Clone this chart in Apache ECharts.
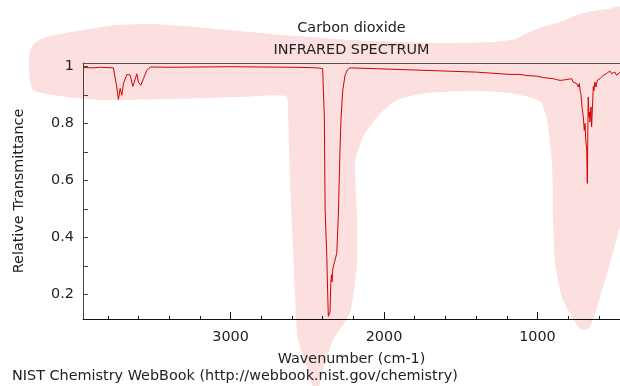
<!DOCTYPE html>
<html>
<head>
<meta charset="utf-8">
<script src="https://cdn.jsdelivr.net/npm/echarts@6/dist/echarts.min.js"></script>
<style>
  html, body { margin: 0; padding: 0; background: #fff; }
  #chart { width: 620px; height: 386px; }
</style>
</head>
<body>
<div id="chart"></div>
<script>
// spectrum (wavenumber cm-1 / relative transmittance)
const wavenumber = [
  3962, 3900, 3850, 3800, 3764, 3742, 3731, 3720, 3709, 3698, 3676, 3655, 3637, 3622, 3611, 3601, 3585, 3568, 3546, 3524,
  3400, 3200, 3000, 2800, 2600, 2480, 2420, 2400, 2395, 2389, 2384, 2373, 2369, 2363, 2356,
  2352, 2347, 2342, 2339, 2334, 2319, 2308, 2298, 2287, 2280, 2269, 2254, 2239, 2221,
  2048, 1831, 1614, 1396, 1179, 1114, 1070, 1005, 962, 897, 875, 853, 810, 777, 767, 744, 734, 727, 722, 717, 712,
  701, 695, 690, 686, 679, 675, 672, 669, 664, 660, 658, 651, 647, 640, 636, 632, 626, 619, 610, 593, 571, 549, 528, 517, 495, 484, 462
]
const transmittance = [
  0.996, 0.995, 0.997, 0.996, 0.995, 0.928, 0.884, 0.923, 0.899, 0.941, 0.972, 0.970, 0.930, 0.955, 0.974, 0.945, 0.934, 0.957, 0.986, 0.998,
  0.997, 0.998, 0.999, 0.998, 0.997, 0.996, 0.994, 0.992, 0.990, 0.823, 0.497, 0.334, 0.241, 0.124, 0.117,
  0.14, 0.24, 0.27, 0.245, 0.29, 0.322, 0.346, 0.474, 0.707, 0.823, 0.916, 0.969, 0.988, 0.995,
  0.992, 0.988, 0.984, 0.980, 0.972, 0.972, 0.968, 0.966, 0.961, 0.957, 0.954, 0.951, 0.954, 0.957, 0.945, 0.940, 0.928, 0.940, 0.915, 0.905, 0.870,
  0.823, 0.776, 0.800, 0.747, 0.707, 0.590, 0.753, 0.893, 0.823, 0.840, 0.805, 0.858, 0.788, 0.881, 0.930, 0.915, 0.945, 0.928, 0.951, 0.957, 0.969, 0.975, 0.984, 0.975, 0.980, 0.969, 0.980
]
const xLabelTicks = [1000, 2000, 3000]
const xMinorTicks = [600, 800, 1200, 1400, 1600, 1800, 2200, 2400, 2600, 2800, 3200, 3400, 3600, 3800]
const yLabelTicks = [0.2, 0.4, 0.6, 0.8, 1]
const yTicks = [0.2, 0.3, 0.4, 0.5, 0.6, 0.7, 0.8, 0.9, 1]

const FONT = 'DejaVu Sans'
const FS = 14.4

// pink highlight behind the plot (decoration, pixel outline)
const blob = [
  [36, 42], [50, 36], [83, 30], [117, 25], [150, 24], [183, 26], [217, 29], [250, 32], [283, 35], [310, 37],
  [350, 40], [400, 42], [443, 43], [495, 42], [515, 39], [527, 33], [543, 27], [560, 22], [577, 15], [593, 11],
  [608, 9], [622, 7], [622, 215], [610, 263], [600, 297], [593, 320], [588, 329], [580, 329], [572, 317],
  [562, 297], [555, 263], [553, 213], [552, 163], [547, 120], [542, 104], [536, 99], [510, 93], [477, 91],
  [427, 93], [397, 100], [377, 117], [363, 137], [355, 163], [357, 213], [357, 263], [350, 313], [333, 340],
  [323, 370], [318, 390], [314, 390], [307, 367], [298, 340], [295, 297], [293, 247], [290, 180], [288, 113],
  [286, 96], [240, 97], [167, 99], [100, 100], [67, 97], [33, 90], [29, 70], [30, 50]
]

const chart = echarts.init(document.getElementById('chart'))

const data = wavenumber.map((w, i) => [w, transmittance[i]])

function textEl(text, x, y, align) {
  return {
    type: 'text', z: 10, silent: true,
    style: { text: text, x: x, y: y, align: align, verticalAlign: 'middle', font: FS + 'px "DejaVu Sans"', fill: '#222' }
  }
}

const option = {
  animation: false,
  backgroundColor: '#fff',
  textStyle: { fontFamily: FONT },
  grid: { left: 83, right: 0, top: 63, bottom: 67, containLabel: false },
  graphic: [
    {
      type: 'polygon', z: -10, silent: true,
      shape: { points: blob, smooth: 0.2 },
      style: { fill: '#fcdfdf' }
    },
    textEl('Carbon dioxide', 351.5, 28, 'center'),
    textEl('INFRARED SPECTRUM', 351.5, 50, 'center'),
    textEl('NIST Chemistry WebBook (http://webbook.nist.gov/chemistry)', 12, 376, 'left')
  ],
  xAxis: [
    {
      type: 'value', inverse: true, min: 462, max: 3962, position: 'bottom',
      name: 'Wavenumber (cm-1)', nameLocation: 'middle', nameGap: 33,
      nameTextStyle: { fontSize: FS, color: '#222', fontFamily: FONT },
      axisLine: { lineStyle: { color: '#111', width: 1 } },
      axisTick: { inside: true, length: 7, customValues: xLabelTicks, lineStyle: { color: '#111' } },
      axisLabel: { customValues: xLabelTicks, fontSize: FS, color: '#222', margin: 11, fontFamily: FONT, formatter: v => String(v) },
      splitLine: { show: false }
    },
    {
      type: 'value', inverse: true, min: 462, max: 3962, position: 'bottom',
      axisLine: { show: false },
      axisTick: { inside: true, length: 3, customValues: xMinorTicks, lineStyle: { color: '#111' } },
      axisLabel: { show: false },
      splitLine: { show: false }
    },
    {
      type: 'value', inverse: true, min: 462, max: 3962, position: 'top',
      axisLine: { lineStyle: { color: '#555', width: 1 } },
      axisTick: { show: false },
      axisLabel: { show: false },
      splitLine: { show: false }
    }
  ],
  yAxis: {
    type: 'value', min: 0.115, max: 1.012,
    name: 'Relative Transmittance', nameLocation: 'middle', nameGap: 57, nameRotate: 90,
    nameTextStyle: { fontSize: FS, color: '#222', fontFamily: FONT },
    axisLine: { show: true, lineStyle: { color: '#444', width: 1 } },
    axisTick: { show: true, inside: true, length: 5, customValues: yTicks, lineStyle: { color: '#444' } },
    axisLabel: {
      customValues: yLabelTicks, fontSize: FS, color: '#222', margin: 9, fontFamily: FONT,
      formatter: v => String(+v.toFixed(1))
    },
    splitLine: { show: false }
  },
  series: [
    {
      type: 'line',
      xAxisIndex: 0,
      data: data,
      showSymbol: false,
      symbol: 'none',
      lineStyle: { color: '#d40000', width: 1 },
      z: 5
    }
  ]
}

chart.setOption(option)
</script>
</body>
</html>
